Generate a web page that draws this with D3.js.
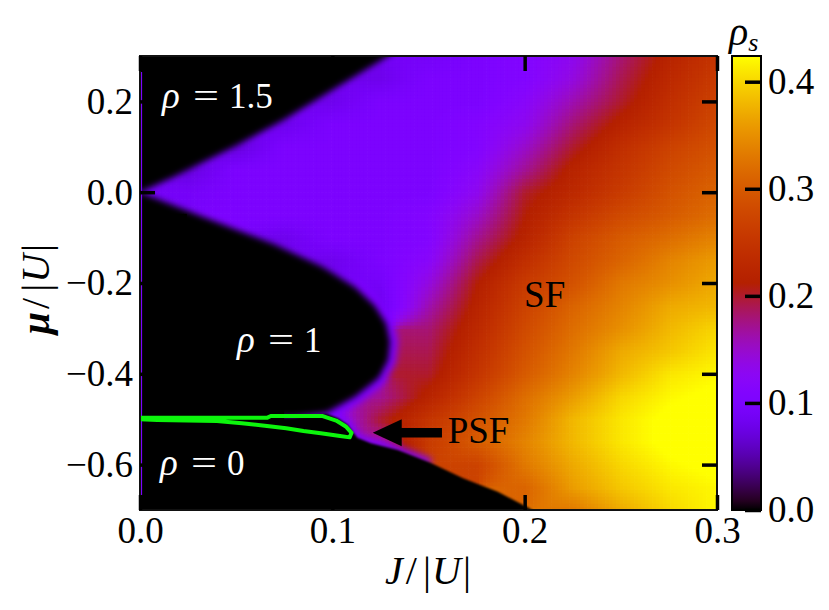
<!DOCTYPE html>
<html><head><meta charset="utf-8">
<script src="https://cdn.jsdelivr.net/npm/d3@7"></script>
<style>
body{margin:0;background:#fff}
svg{display:block}
text{font-family:"Liberation Serif","Times New Roman",serif}
</style>
</head><body>
<svg id="chart" width="829" height="610"></svg>
<script>
// ---------------- DATA ----------------
const J_GRID  = [0, 0.025, 0.05, 0.075, 0.1, 0.125, 0.15, 0.175, 0.2, 0.225, 0.25, 0.275, 0.3];
const MU_GRID = [0.30, 0.25, 0.20, 0.15, 0.10, 0.05, 0.00, -0.05, -0.10, -0.15, -0.20,
                 -0.25, -0.30, -0.35, -0.40, -0.45, -0.50, -0.55, -0.60, -0.65, -0.70];
const n = null; // insulating (Mott / empty) region: rho_s = 0
// superfluid density rho_s, one row per MU_GRID value, one column per J_GRID value
const RHO_S = [
  [n,   n,   n,   n,   n,   n,   .09, .10, .11, .13, .18, .22, .25],
  [n,   n,   n,   n,   n,   .08, .10, .10, .11, .14, .19, .23, .26],
  [n,   n,   n,   n,   .08, .10, .10, .10, .12, .16, .20, .24, .27],
  [n,   n,   n,   .08, .10, .10, .10, .11, .13, .18, .22, .25, .28],
  [n,   n,   .07, .10, .10, .10, .10, .11, .15, .20, .24, .27, .29],
  [n,   .07, .10, .10, .10, .10, .10, .12, .17, .22, .25, .28, .30],
  [.09, .09, .10, .10, .10, .10, .10, .13, .20, .23, .26, .29, .31],
  [n,   n,   .10, .10, .10, .10, .11, .15, .21, .25, .28, .30, .32],
  [n,   n,   n,   .08, .10, .10, .11, .17, .22, .27, .30, .32, .34],
  [n,   n,   n,   n,   .08, .10, .12, .19, .24, .28, .31, .34, .36],
  [n,   n,   n,   n,   n,   .09, .14, .21, .26, .29, .33, .35, .37],
  [n,   n,   n,   n,   n,   .08, .16, .22, .27, .31, .34, .37, .38],
  [n,   n,   n,   n,   n,   n,   .18, .23, .28, .32, .35, .38, .40],
  [n,   n,   n,   n,   n,   n,   .19, .24, .29, .33, .37, .39, .41],
  [n,   n,   n,   n,   n,   n,   .20, .25, .30, .34, .38, .41, .42],
  [n,   n,   n,   n,   n,   .17, .22, .27, .32, .36, .40, .42, .43],
  [n,   n,   n,   n,   .12, .20, .25, .29, .33, .38, .41, .43, .43],
  [n,   n,   n,   n,   n,   .16, .26, .30, .34, .38, .41, .43, .43],
  [n,   n,   n,   n,   n,   n,   n,   .27, .33, .37, .40, .42, .43],
  [n,   n,   n,   n,   n,   n,   n,   n,   .31, .36, .39, .41, .42],
  [n,   n,   n,   n,   n,   n,   n,   n,   n,   .33, .37, .40, .42]
];
// phase boundaries [J, mu]
const RHO15_BOUNDARY = [[0,0],[0.017,0.033],[0.05,0.103],[0.075,0.16],[0.1,0.225],[0.129,0.3],[0.15,0.36]];
const RHO1_BOUNDARY  = [[0,0],[0.035,-0.058],[0.07,-0.115],[0.095,-0.165],[0.112,-0.21],[0.122,-0.25],
                        [0.128,-0.29],[0.13,-0.33],[0.129,-0.37],[0.124,-0.41],[0.112,-0.45],
                        [0.097,-0.486],[0.08,-0.495],[0,-0.5]];
const RHO0_BOUNDARY  = [[0,-0.5],[0.08,-0.497],[0.097,-0.488],[0.103,-0.498],[0.108,-0.512],[0.111,-0.53],
                        [0.113,-0.541],[0.12,-0.553],[0.134,-0.568],[0.151,-0.596],[0.168,-0.63],
                        [0.186,-0.66],[0.201,-0.693],[0.204,-0.7],[0.21,-0.75]];
const PSF_CONTOUR = [[0,-0.497],[0.066,-0.497],[0.068,-0.493],[0.095,-0.493],[0.102,-0.503],[0.107,-0.516],
                     [0.110,-0.530],[0.109,-0.540],[0.104,-0.537],[0.094,-0.531],[0.085,-0.526],[0.076,-0.52],
                     [0.066,-0.515],[0.053,-0.509],[0.040,-0.504],[0.009,-0.502],[0,-0.5]];
const J0_LINE = [0.265, -0.667];
const X_TICKS = [0, 0.1, 0.2, 0.3];
const Y_TICKS = [-0.6, -0.4, -0.2, 0.0, 0.2];
const CB_TICKS = [0, 0.1, 0.2, 0.3, 0.4];
const CB_MAX = 0.424;
const PHASE_LABELS = [{v:"1.5", J:0.0114, mu:0.1855}, {v:"1", J:0.0504, mu:-0.352}, {v:"0", J:0.0104, mu:-0.623}];
const REGION_LABELS = [{t:"SF", J:0.1997, mu:-0.253}, {t:"PSF", J:0.160, mu:-0.552}];
const ARROW = {fromJ:0.157, toJ:0.121, mu:-0.530};

// ---------------- LAYOUT ----------------
const svg = d3.select("#chart");
const L = 140, R = 717, T = 56, B = 510;
const x = d3.scaleLinear().domain([0, 0.3]).range([L, R]);
const y = d3.scaleLinear().domain([-0.7, 0.3]).range([B, T]);
const gnu = t => { t = Math.max(0, Math.min(1, t));
  return d3.rgb(255*Math.sqrt(t), 255*t*t*t, 255*Math.max(0, Math.sin(2*Math.PI*t))).toString(); };
const color = d3.scaleSequential(gnu).domain([0, CB_MAX]).clamp(true);

const defs = svg.append("defs");
defs.append("clipPath").attr("id","plotclip").append("rect")
  .attr("x",L).attr("y",T).attr("width",R-L).attr("height",B-T);
const f1 = defs.append("filter").attr("id","soft").attr("x","-20%").attr("y","-20%").attr("width","140%").attr("height","140%");
f1.append("feGaussianBlur").attr("stdDeviation",3);
const f2 = defs.append("filter").attr("id","soft1").attr("x","-20%").attr("y","-20%").attr("width","140%").attr("height","140%");
f2.append("feGaussianBlur").attr("stdDeviation",0.8);
const f3 = defs.append("filter").attr("id","glow").attr("x","-30%").attr("y","-30%").attr("width","160%").attr("height","160%");
f3.append("feGaussianBlur").attr("stdDeviation",3.5);

// sampling of the read grid for display
const dJg = J_GRID[1]-J_GRID[0], dMg = MU_GRID[0]-MU_GRID[1];
function sample(J, M) {
  let c = Math.floor(J/dJg); c = Math.max(0, Math.min(J_GRID.length-2, c));
  let r = Math.floor((MU_GRID[0]-M)/dMg); r = Math.max(0, Math.min(MU_GRID.length-2, r));
  const fx = Math.max(0, Math.min(1, (J - J_GRID[c])/dJg));
  const fy = Math.max(0, Math.min(1, (MU_GRID[0]-M)/dMg - r));
  const nodes = [[RHO_S[r][c],(1-fx)*(1-fy)],[RHO_S[r][c+1],fx*(1-fy)],[RHO_S[r+1][c],(1-fx)*fy],[RHO_S[r+1][c+1],fx*fy]];
  let s = 0, w = 0;
  nodes.forEach(([v,wt]) => { if (v !== null) { s += v*wt; w += wt; } });
  return w > 1e-9 ? s/w : 0;
}
const NX = 160, NY = 130, dJ = 0.3/NX, dM = 1.0/NY;
const cells = [];
for (let i = 0; i < NX; i++) for (let j = 0; j < NY; j++) {
  const J0 = i*dJ, M0 = -0.7 + j*dM;
  cells.push({J0, M0, v: sample(J0+dJ/2, M0+dM/2)});
}
const plot = svg.append("g").attr("clip-path","url(#plotclip)");
plot.append("g").selectAll("rect").data(cells).join("rect")
  .attr("x", d => x(d.J0)).attr("y", d => y(d.M0+dM))
  .attr("width", x(dJ)-x(0)+0.7).attr("height", y(0)-y(dM)+0.7)
  .attr("fill", d => color(d.v));

const line = d3.line().x(d => x(d[0])).y(d => y(d[1]));
// purple fringe along the lobe and the PSF wedge
plot.append("path").attr("d", line(RHO1_BOUNDARY.filter(d => d[1] <= -0.2 && d[1] >= -0.49)))
  .attr("fill","none").attr("stroke", color(0.1)).attr("stroke-width", 16).attr("filter","url(#glow)");
plot.append("path").attr("d", line(RHO0_BOUNDARY.filter(d => d[0] >= 0.097 && d[0] <= 0.152)))
  .attr("fill","none").attr("stroke", color(0.1)).attr("stroke-width", 8).attr("filter","url(#glow)");

// insulating regions (rho_s = 0)
const poly15 = RHO15_BOUNDARY.concat([[-0.02,0.36],[-0.02,0]]);
const poly1  = RHO1_BOUNDARY.concat([[-0.02,-0.5],[-0.02,0]]);
const poly0  = RHO0_BOUNDARY.concat([[-0.02,-0.75],[-0.02,-0.5]]);
plot.append("path").attr("d", line(poly15)+"Z").attr("fill","#000").attr("filter","url(#soft)");
plot.append("path").attr("d", line(poly1)+"Z").attr("fill","#000").attr("filter","url(#soft)");
plot.append("path").attr("d", line(poly0)+"Z").attr("fill","#000").attr("filter","url(#soft1)");

// J = 0 column
plot.append("line").attr("x1", x(0)+1.2).attr("x2", x(0)+1.2).attr("y1", y(J0_LINE[0])).attr("y2", y(J0_LINE[1]))
  .attr("stroke", color(0.1)).attr("stroke-width", 1.8);

// PSF contour
plot.append("path").attr("d", line(PSF_CONTOUR)).attr("fill","none")
  .attr("stroke","#0cf50c").attr("stroke-width",4).attr("stroke-linejoin","round");

// frame
svg.append("rect").attr("x",L).attr("y",T).attr("width",R-L).attr("height",B-T)
  .attr("fill","none").attr("stroke","#111").attr("stroke-width",2);

// axes
const TS = 15;
function styleAxis(g, fs) {
  g.select(".domain").remove();
  g.selectAll(".tick line").attr("stroke","#000").attr("stroke-width",3.5);
  g.selectAll(".tick text").attr("fill","#000").attr("font-size", fs)
    .attr("font-family",'"Liberation Serif","Times New Roman",serif');
}
svg.append("g").attr("transform",`translate(0,${B})`)
  .call(d3.axisBottom(x).tickValues(X_TICKS).tickSize(-TS).tickPadding(7).tickFormat(d3.format(".1f")))
  .call(g => styleAxis(g, 37));
svg.append("g").attr("transform",`translate(0,${T})`)
  .call(d3.axisTop(x).tickValues(X_TICKS).tickSize(-TS).tickFormat(""))
  .call(g => styleAxis(g, 37));
svg.append("g").attr("transform",`translate(${L},0)`)
  .call(d3.axisLeft(y).tickValues(Y_TICKS).tickSize(-TS).tickPadding(7).tickFormat(d3.format(".1f")))
  .call(g => styleAxis(g, 37));
svg.append("g").attr("transform",`translate(${R},0)`)
  .call(d3.axisRight(y).tickValues(Y_TICKS).tickSize(-TS).tickFormat(""))
  .call(g => styleAxis(g, 37));

// axis titles
const xt = svg.append("text").attr("x", 428).attr("y", 584).attr("text-anchor","middle").attr("font-size",40);
xt.append("tspan").attr("font-style","italic").text("J");
xt.append("tspan").attr("dx",3).text("/");
xt.append("tspan").attr("dx",6).text("|");
xt.append("tspan").attr("font-style","italic").attr("dx",1).text("U");
xt.append("tspan").attr("dx",2).text("|");
const yt = svg.append("text").attr("transform","translate(49,289) rotate(-90)").attr("text-anchor","middle").attr("font-size",40);
yt.append("tspan").attr("font-style","italic").attr("font-weight","bold").text("μ");
yt.append("tspan").attr("dx",3).text("/");
yt.append("tspan").attr("dx",6).text("|");
yt.append("tspan").attr("font-style","italic").attr("dx",1).text("U");
yt.append("tspan").attr("dx",2).text("|");

// phase labels
PHASE_LABELS.forEach(d => {
  const px = x(d.J), py = y(d.mu);
  svg.append("text").attr("x",px).attr("y",py).attr("fill","#fff").attr("font-size",37).attr("font-style","italic").text("ρ");
  svg.append("text").attr("x",px+44).attr("y",py).attr("fill","#fff").attr("font-size",35).attr("text-anchor","middle")
    .attr("textLength",26).attr("lengthAdjust","spacingAndGlyphs").text("=");
  svg.append("text").attr("x",px+67).attr("y",py).attr("fill","#fff").attr("font-size",35).text(d.v);
});
REGION_LABELS.forEach(d => {
  svg.append("text").attr("x",x(d.J)).attr("y",y(d.mu)).attr("fill","#000").attr("font-size",37).text(d.t);
});
// arrow
{
  const tx = x(ARROW.toJ), fx = x(ARROW.fromJ), ay = y(ARROW.mu);
  const hl = 29, hh = 13.5, sh = 4.8;
  const pts = [[tx,ay],[tx+hl,ay-hh],[tx+hl,ay-sh],[fx,ay-sh],[fx,ay+sh],[tx+hl,ay+sh],[tx+hl,ay+hh]];
  svg.append("path").attr("d", d3.line()(pts)+"Z").attr("fill","#000");
}

// colorbar
const CBL = 732, CBR = 761;
const cby = d3.scaleLinear().domain([0, CB_MAX]).range([B, T]);
const grad = defs.append("linearGradient").attr("id","cbgrad").attr("x1",0).attr("y1",1).attr("x2",0).attr("y2",0);
d3.range(0, 1.0001, 0.02).forEach(t => grad.append("stop").attr("offset", t).attr("stop-color", gnu(t)));
svg.append("rect").attr("x",CBL).attr("y",T).attr("width",CBR-CBL).attr("height",B-T)
  .attr("fill","url(#cbgrad)").attr("stroke","#000").attr("stroke-width",2);
svg.append("g").attr("transform",`translate(${CBR},0)`)
  .call(d3.axisRight(cby).tickValues(CB_TICKS).tickSize(-16).tickPadding(7).tickFormat(d3.format(".1f")))
  .call(g => styleAxis(g, 37));
const cbt = svg.append("text").attr("x",729).attr("y",45).attr("font-size",40);
cbt.append("tspan").attr("font-style","italic").text("ρ");
cbt.append("tspan").attr("font-style","italic").attr("font-size",26).attr("dy",6).text("s");
</script>
</body></html>
